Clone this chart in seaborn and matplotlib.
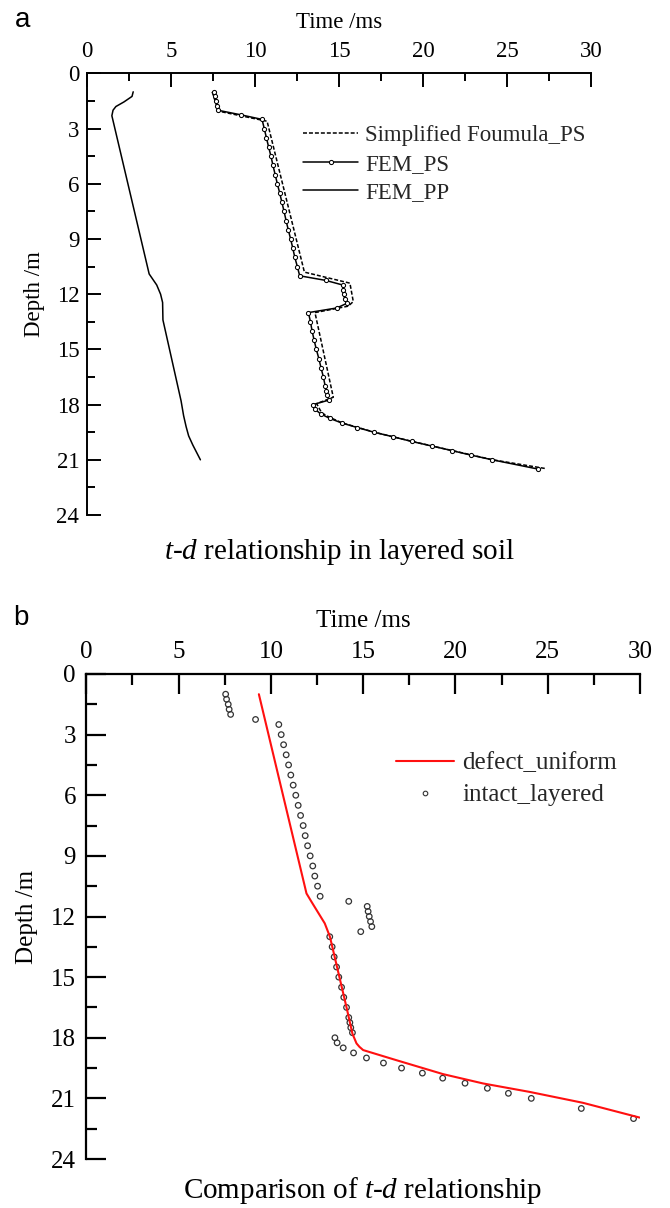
import matplotlib
matplotlib.use("Agg")
import matplotlib.pyplot as plt
import seaborn as sns
from matplotlib.lines import Line2D
from matplotlib.ticker import MultipleLocator

# ---------------- data ----------------
# panel a: FEM_PS (markers), depth in m, time in ms
ps_depth = [1.0, 1.25, 1.5, 1.75, 2.0, 2.25, 2.5, 3.0, 3.5, 4.0, 4.5, 5.0, 5.5, 6.0,
            6.5, 7.0, 7.5, 8.0, 8.5, 9.0, 9.5, 10.0, 10.5, 11.0, 11.25, 11.5, 11.75,
            12.0, 12.25, 12.5, 12.75, 13.0, 13.5, 14.0, 14.5, 15.0, 15.5, 16.0, 16.5,
            17.0, 17.25, 17.5, 17.75, 18.0, 18.25, 18.5, 18.75, 19.0, 19.25, 19.5,
            19.75, 20.0, 20.25, 20.5, 20.75, 21.0, 21.5]
ps_time = [7.53, 7.60, 7.67, 7.73, 7.78, 9.15, 10.42, 10.55, 10.68, 10.81, 10.95, 11.07,
           11.20, 11.33, 11.47, 11.60, 11.73, 11.85, 11.98, 12.12, 12.25, 12.37, 12.52,
           12.66, 14.21, 15.22, 15.24, 15.28, 15.34, 15.46, 14.86, 13.18, 13.30, 13.40,
           13.52, 13.65, 13.80, 13.93, 14.07, 14.18, 14.25, 14.30, 14.42, 13.45, 13.57,
           13.90, 14.45, 15.17, 16.10, 17.08, 18.22, 19.32, 20.52, 21.72, 22.88, 24.12,
           26.83]

# panel a: Simplified formula PS (dashed)
sf_depth = [1.0, 2.05, 2.6, 10.8, 11.4, 12.4, 12.65, 13.0, 17.6, 17.95, 18.45, 18.7,
            19.0, 19.5, 20.0, 20.5, 21.0, 21.47]
sf_time = [7.45, 7.82, 10.72, 12.94, 15.65, 15.85, 15.55, 13.57, 14.66, 13.67, 13.97,
           14.46, 15.20, 17.10, 19.35, 21.75, 24.15, 27.26]

# panel a: FEM_PP (solid)
pp_depth = [1.0, 1.25, 1.55, 1.8, 2.0, 2.3, 10.9, 11.5, 12.0, 12.45, 13.4, 17.8, 18.6,
            19.2, 19.7, 20.2, 21.0]
pp_time = [2.75, 2.68, 2.20, 1.72, 1.55, 1.48, 3.70, 4.15, 4.38, 4.50, 4.52, 5.60, 5.75,
           5.90, 6.05, 6.30, 6.75]

# panel b: defect_uniform (red line)
defect_depth = [1.0, 10.86, 11.27, 12.34, 13.0, 16.5, 17.8, 18.28, 18.45, 18.61, 19.11,
                19.8, 20.26, 20.68, 21.22, 21.95]
defect_time = [9.35, 11.93, 12.20, 12.92, 13.20, 14.10, 14.42, 14.64, 14.80, 15.00,
               16.80, 19.33, 21.49, 24.02, 26.91, 29.98]

# panel b: intact_layered (hollow circles)
intact_depth = ps_depth + [22.0]
intact_time = [7.55, 7.60, 7.69, 7.74, 7.82, 9.17, 10.43, 10.56, 10.69, 10.83, 10.96,
               11.08, 11.21, 11.35, 11.48, 11.61, 11.75, 11.86, 11.99, 12.13, 12.27,
               12.38, 12.53, 12.67, 14.22, 15.22, 15.27, 15.33, 15.40, 15.47, 14.87,
               13.19, 13.32, 13.43, 13.56, 13.68, 13.83, 13.95, 14.10, 14.22, 14.28,
               14.33, 14.42, 13.47, 13.59, 13.92, 14.48, 15.18, 16.10, 17.08, 18.21,
               19.31, 20.52, 21.73, 22.87, 24.11, 26.82, 29.65]

x_ticks_major = 5
y_ticks_major = 3

# ---------------- style ----------------
sns.set_theme(style="white")
plt.rcParams['font.family'] = ['Liberation Serif', 'DejaVu Serif']
plt.rcParams['mathtext.fontset'] = 'custom'
plt.rcParams['mathtext.rm'] = 'Liberation Serif'
plt.rcParams['mathtext.it'] = 'Liberation Serif:italic'

W, H = 670, 1208
fig = plt.figure(figsize=(W / 100, H / 100), dpi=100, facecolor='white')


def fx(px):
    return px / W


def fy(py):
    return 1 - py / H


axA = fig.add_axes([fx(87), fy(515), fx(591) - fx(87), fy(73.4) - fy(515)])
axB = fig.add_axes([fx(86.3), fy(1159), fx(640) - fx(86.3), fy(674) - fy(1159)])


def style(ax, fs, spine_w, maj_len, min_len, xpad, ypad, xlabpad, ylabpad):
    ax.set_facecolor('white')
    ax.set_xlim(0, 30)
    ax.set_ylim(24, 0)
    ax.xaxis.set_major_locator(MultipleLocator(x_ticks_major))
    ax.xaxis.set_minor_locator(MultipleLocator(x_ticks_major / 2))
    ax.yaxis.set_major_locator(MultipleLocator(y_ticks_major))
    ax.yaxis.set_minor_locator(MultipleLocator(y_ticks_major / 2))
    ax.xaxis.tick_top()
    ax.xaxis.set_label_position('top')
    for s in ['right', 'bottom']:
        ax.spines[s].set_visible(False)
    for s in ['left', 'top']:
        ax.spines[s].set_visible(True)
        ax.spines[s].set_linewidth(spine_w)
        ax.spines[s].set_color('black')
    ax.tick_params(which='major', direction='in', length=maj_len, width=spine_w,
                   color='black', labelsize=fs, labelcolor='black')
    ax.tick_params(which='minor', direction='in', length=min_len, width=spine_w,
                   color='black')
    ax.tick_params(axis='x', which='both', top=True, bottom=False, labeltop=True,
                   labelbottom=False, pad=xpad)
    ax.tick_params(axis='y', which='both', left=True, right=False, pad=ypad)
    ax.grid(False)
    ax.set_xlabel('Time /ms', fontsize=fs, labelpad=xlabpad, color='black')
    ax.set_ylabel('Depth /m', fontsize=fs, labelpad=ylabpad, color='black')


# ---------------- panel a ----------------
dash = (0, (2.6, 1.3))
sns.lineplot(x=sf_time, y=sf_depth, ax=axA, sort=False, estimator=None, color='black',
             linewidth=1.1, linestyle=dash, legend=False)
sns.lineplot(x=ps_time, y=ps_depth, ax=axA, sort=False, estimator=None, color='black',
             linewidth=1.1, marker='o', markersize=3.0, markerfacecolor='white',
             markeredgecolor='black', markeredgewidth=0.75, legend=False)
sns.lineplot(x=pp_time, y=pp_depth, ax=axA, sort=False, estimator=None, color='black',
             linewidth=1.1, legend=False)
style(axA, 16.5, 1.4, 10, 5.4, 8.5, 5.5, 9, 8)

hA = [Line2D([], [], color='black', lw=1.1, linestyle=dash),
      Line2D([], [], color='black', lw=1.1, marker='o', markersize=3.0,
             markerfacecolor='white', markeredgecolor='black', markeredgewidth=0.75),
      Line2D([], [], color='black', lw=1.1)]
axA.legend(hA, ['Simplified Foumula_PS', 'FEM_PS', 'FEM_PP'], loc='upper left',
           bbox_to_anchor=(fx(303), fy(125)), bbox_transform=fig.transFigure,
           frameon=False, fontsize=16.5, handlelength=2.4, handletextpad=0.3,
           labelspacing=0.33, borderpad=0, borderaxespad=0, numpoints=1)

# ---------------- panel b ----------------
sns.lineplot(x=defect_time, y=defect_depth, ax=axB, sort=False, estimator=None,
             color='#ff1010', linewidth=1.5, legend=False)
sns.scatterplot(x=intact_time, y=intact_depth, ax=axB, marker='o', s=16,
                color='none', edgecolor='#333333', linewidth=0.9, legend=False)
style(axB, 18, 1.6, 14.5, 8, 8, 7.5, 10, 9)

hB = [Line2D([], [], color='#ff1010', lw=1.5),
      Line2D([], [], color='none', marker='o', markersize=3.3, markerfacecolor='none',
             markeredgecolor='#333333', markeredgewidth=0.8)]
axB.legend(hB, ['defect_uniform', 'intact_layered'], loc='upper left',
           bbox_to_anchor=(fx(395.7), fy(752)), bbox_transform=fig.transFigure,
           frameon=False, fontsize=18, handlelength=2.34, handletextpad=0.32,
           labelspacing=0.38, borderpad=0, borderaxespad=0, numpoints=1)

# ---------------- captions and panel letters ----------------
fig.text(fx(339), fy(552), r'$t$-$d$ relationship in layered soil', ha='center',
         va='center', fontsize=21, color='black')
fig.text(fx(363), fy(1191), r'Comparison of $t$-$d$ relationship', ha='center',
         va='center', fontsize=21, color='black')
fig.text(fx(15), fy(27), 'a', family=['Liberation Sans', 'DejaVu Sans'],
         fontsize=20, ha='left', va='baseline', color='black')
fig.text(fx(13), fy(625), 'b', family=['Liberation Sans', 'DejaVu Sans'],
         fontsize=20, ha='left', va='baseline', color='black')

fig.savefig('out.png', dpi=100, facecolor='white')
